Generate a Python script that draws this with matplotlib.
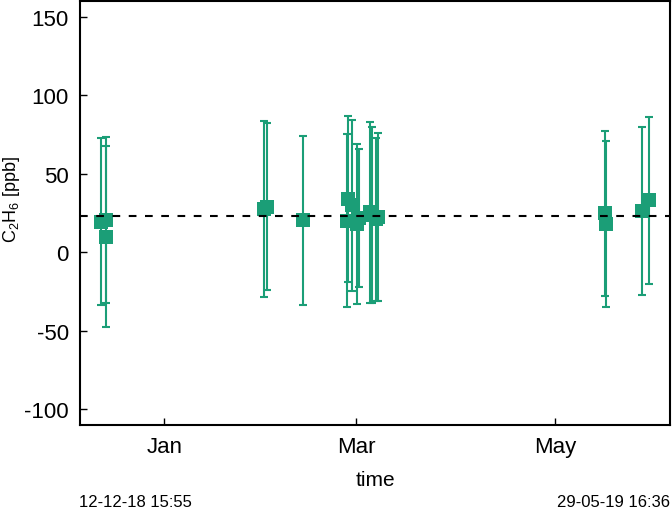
import numpy as np
import pandas as pd
import matplotlib
matplotlib.use("Agg")
from matplotlib import pyplot as plt
import matplotlib.dates as mdates

plt.rcParams['font.family'] = ['Liberation Sans', 'DejaVu Sans']
plt.rcParams['axes.unicode_minus'] = False
plt.rcParams['mathtext.fontset'] = 'custom'
plt.rcParams['mathtext.rm'] = 'Liberation Sans'

times = pd.to_datetime([
    "2018-12-12 15:55", "2018-12-14 02:00", "2018-12-14 04:00",
    "2019-01-31 14:00", "2019-02-01 12:00", "2019-02-12 12:00",
    "2019-02-26 05:00", "2019-02-26 12:00", "2019-02-27 14:00",
    "2019-03-01 02:00", "2019-03-01 17:00", "2019-03-05 06:00",
    "2019-03-05 17:00", "2019-03-06 22:00", "2019-03-07 12:00",
    "2019-05-16 05:00", "2019-05-16 10:00", "2019-05-27 12:00",
    "2019-05-29 16:36",
])
values = [19.5, 20.5, 10.0, 27.5, 29.0, 20.3, 20.0, 34.0, 30.0, 18.0,
          22.0, 25.5, 23.5, 21.0, 22.5, 24.7, 18.0, 26.3, 33.0]
errors = [53.4, 52.8, 57.5, 56.0, 53.0, 54.0, 55.0, 53.0, 54.5, 51.0,
          44.0, 57.5, 56.0, 52.0, 53.5, 52.7, 53.0, 53.3, 53.0]
mean_value = 22.8

start_label = "12-12-18 15:55"
end_label = "29-05-19 16:36"

green = "#1b9e77"

fig = plt.figure(figsize=(6.72, 5.10), dpi=100)
ax = fig.add_axes([80/672, 84/510, 590/672, 424/510])

ax.errorbar(times, values, yerr=errors, fmt='none', ecolor=green,
            elinewidth=1.5, capsize=3, capthick=1.5, zorder=2)
ax.plot(times, values, 's', color=green, ms=10, mew=0, ls='none', zorder=2)
ax.axhline(mean_value, color='black', lw=1.5, dashes=(3.7, 4.1), zorder=3)

pad = pd.Timedelta(days=6.5)
ax.set_xlim(times[0] - pad, times[-1] + pad)
ax.set_ylim(-110, 160)
ax.set_yticks([-100, -50, 0, 50, 100, 150])

ax.xaxis.set_major_locator(mdates.MonthLocator(bymonth=[1, 3, 5]))
ax.xaxis.set_major_formatter(mdates.DateFormatter('%b'))

ax.tick_params(direction='in', length=5, width=1, labelsize=16,
               top=False, right=False, pad=8)
for s in ax.spines.values():
    s.set_linewidth(1.5)

ax.set_xlabel("time", fontsize=15, labelpad=9)
ax.set_ylabel("C$_2$H$_6$ [ppb]", fontsize=13)
ax.yaxis.set_label_coords(-0.098, 0.535)

fig.text(79/672, 1 - 503/510, start_label, fontsize=12, ha='left', va='center')
fig.text(670/672, 1 - 503/510, end_label, fontsize=12, ha='right', va='center')

fig.savefig("out.png", dpi=100)
